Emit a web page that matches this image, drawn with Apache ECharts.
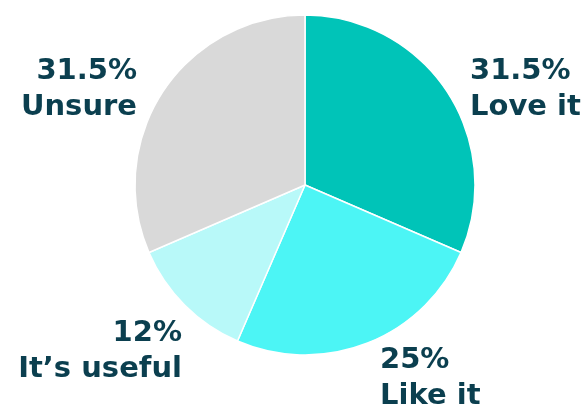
<!DOCTYPE html>
<html>
<head>
<meta charset="utf-8">
<style>html,body{margin:0;padding:0;background:#fff;}#c{width:585px;height:410px;}</style>
<script src="https://cdn.jsdelivr.net/npm/echarts@6/dist/echarts.min.js"></script>
</head>
<body>
<div id="c"></div>
<script>
const categories = ["Love it", "Like it", "It\u2019s useful", "Unsure"];
const values = [31.5, 25, 12, 31.5];
const colors = ["#00C4B8", "#4CF5F5", "#B8F9F9", "#D9D9D9"];
// label anchor positions (layout only)
const labelPos = [
  {x: 470, y: 89, align: "left"},
  {x: 380, y: 378, align: "left"},
  {x: 182, y: 351, align: "right"},
  {x: 137, y: 89, align: "right"}
];
const chart = echarts.init(document.getElementById('c'), null, {renderer: 'canvas'});
chart.setOption({
  animation: false,
  series: [{
    type: 'pie',
    center: [305, 185],
    radius: [0, 170],
    startAngle: 90,
    clockwise: true,
    data: categories.map((c, i) => ({name: c, value: values[i], itemStyle: {color: colors[i]}})),
    itemStyle: {borderColor: '#fff', borderWidth: 1.5},
    label: {
      show: true,
      position: 'outside',
      formatter: p => p.value + '%\n' + p.name,
      color: '#0B3F4F',
      fontFamily: 'DejaVu Sans',
      fontWeight: 'bold',
      fontSize: 29,
      lineHeight: 36,
      overflow: 'none',
      width: 250
    },
    labelLine: {show: false},
    labelLayout: params => {
      const lp = labelPos[params.dataIndex];
      return {x: lp.x, y: lp.y, align: lp.align, verticalAlign: 'middle'};
    },
    emphasis: {disabled: true}
  }]
});
</script>
</body>
</html>
